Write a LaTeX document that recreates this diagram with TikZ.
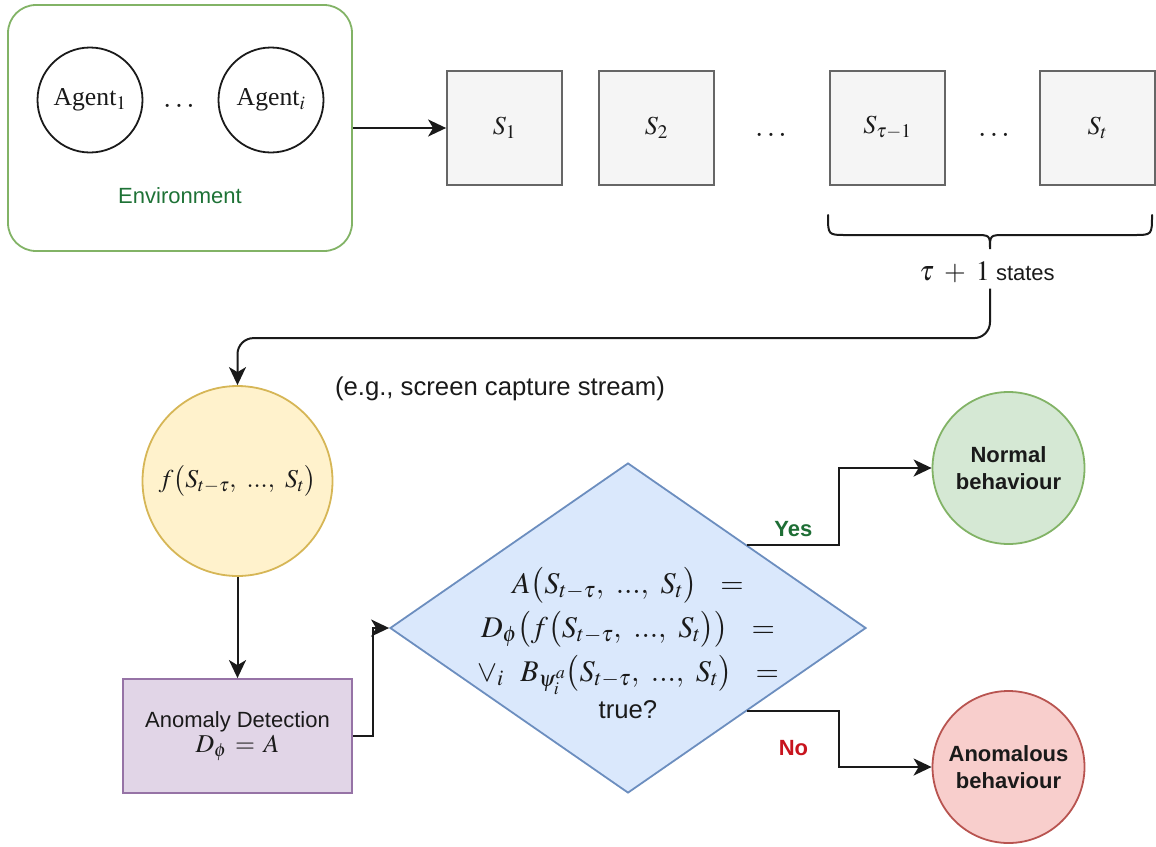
\documentclass[tikz,border=0pt]{standalone}
\usepackage{mathptmx}
\usepackage[no-math]{fontspec}
\setmainfont{Liberation Sans}
\newfontfamily\agentfont{Liberation Serif}
\usetikzlibrary{arrows.meta,shapes.geometric,calc}

\definecolor{envgreen}{HTML}{82B366}
\definecolor{envtext}{HTML}{1E7236}
\definecolor{stfill}{HTML}{F5F5F5}
\definecolor{stdraw}{HTML}{666666}
\definecolor{yfill}{HTML}{FFF2CC}
\definecolor{ydraw}{HTML}{D6B656}
\definecolor{pfill}{HTML}{E1D5E7}
\definecolor{pdraw}{HTML}{9673A6}
\definecolor{bfill}{HTML}{DAE8FC}
\definecolor{bdraw}{HTML}{6C8EBF}
\definecolor{gfill}{HTML}{D5E8D4}
\definecolor{rfill}{HTML}{F8CECC}
\definecolor{rdraw}{HTML}{B85450}
\definecolor{ink}{HTML}{1A1A1A}
\definecolor{yescol}{HTML}{1E6E35}
\definecolor{nocol}{HTML}{C8141E}

\newcommand{\sz}[1]{\fontsize{#1}{1.2\dimexpr#1pt\relax}\selectfont}
% argument list S_{t-tau}, ..., S_t
\newcommand{\seqargs}{S_{t-\tau},\ ...,\ S_t}

\tikzset{
  line/.style={draw=ink, line width=2pt},
  arr/.style={line, -{Stealth[length=18pt,width=17pt,inset=5pt]}},
  envbox/.style={draw=envgreen, line width=1.8pt, rounded corners=28pt,
    minimum width=344pt, minimum height=246pt, inner sep=0pt},
  agent/.style={circle, draw=ink, line width=1.8pt, minimum size=105pt,
    inner sep=0pt, font=\agentfont\sz{25.7}, text=ink},
  statebox/.style={draw=stdraw, fill=stfill, line width=1.8pt,
    minimum width=115pt, minimum height=114pt, inner sep=0pt,
    font=\sz{26}, text=ink},
  dotsnode/.style={inner sep=0pt, font=\sz{30}, text=ink},
  fcirc/.style={circle, draw=ydraw, fill=yfill, line width=1.8pt,
    minimum size=190pt, inner sep=0pt, font=\sz{25.7}, text=ink},
  adbox/.style={draw=pdraw, fill=pfill, line width=1.8pt,
    minimum width=229pt, minimum height=114pt, align=center,
    font=\sz{22}, text=ink},
  decision/.style={diamond, draw=bdraw, fill=bfill, line width=1.8pt,
    minimum width=476pt, minimum height=330pt, inner sep=0pt},
  goodc/.style={circle, draw=envgreen, fill=gfill, line width=1.8pt,
    minimum size=152pt, inner sep=0pt, align=center,
    font=\bfseries\sz{22}, text=ink},
  badc/.style={circle, draw=rdraw, fill=rfill, line width=1.8pt,
    minimum size=152pt, inner sep=0pt, align=center,
    font=\bfseries\sz{22}, text=ink},
  yeslbl/.style={inner sep=3pt, font=\bfseries\sz{22}, text=yescol},
  nolbl/.style={inner sep=3pt, font=\bfseries\sz{22}, text=nocol},
}

\begin{document}
\begin{tikzpicture}[x=1pt, y=-1pt]
\useasboundingbox (0,0) rectangle (1156,846);

% environment with its agents
\node[envbox] (env) at (180,128) {};
\node[agent] (a1) at (90,100) {Agent$_1$};
\node[agent] (ai) at (271,100) {Agent$_i$};
\node[dotsnode] (adots) at (179,106) {$\dots$};
\node[font=\sz{22}, text=envtext] (envlbl) at (180,196) {Environment};

% sequence of states
\node[statebox] (s1) at (504.5,128) {$S_1$};
\node[statebox] (s2) at (656.5,128) {$S_2$};
\node[statebox] (stau) at (887.5,128) {$S_{\tau-1}$};
\node[statebox] (st) at (1097.5,128) {$S_t$};
\node[dotsnode] (sdots1) at (771,135) {$\dots$};
\node[dotsnode] (sdots2) at (994,135) {$\dots$};

\draw[arr] (env.east) -- (env.east -| s1.west);

% brace over the last tau+1 states
\coordinate (bt) at (990,249);
\draw[line, line cap=round]
  (828,215) .. controls (828,235) .. (846,235) -- (974,235)
  .. controls (990,235) .. (990,249)
  .. controls (990,235) .. (1006,235) -- (1134,235)
  .. controls (1152,235) .. (1152,215);
\node[font=\sz{22}, text=ink, inner xsep=3pt, inner ysep=6pt] (taulbl) at (987,272)
  {{\sz{28}$\tau \;+\; 1$} states};

% feature extraction
\node[fcirc] (fc) at (237.5,481) {$f\bigl(\seqargs\bigr)$};
\node[font=\sz{25.7}, text=ink] (eg) at (500,389) {(e.g., screen capture stream)};

\draw[arr, rounded corners=16pt] (taulbl.south -| bt) |- ($(fc.north)+(0,-47)$) -- (fc.north);

% anomaly detector
\node[adbox] (ad) at (237.5,736) {Anomaly Detection\\[-2pt]{\sz{25.7}$D_\phi \,=\, A$}};
\draw[arr] (fc.south) -- (ad.north);

% decision
\node[decision] (dm) at (628,628) {};
\node[align=center, font=\sz{30}, text=ink] (dmtext) at (628,643)
  {$A\bigl(\seqargs\bigr) \ \ =$\\[8pt]
   $D_\phi\bigl(f\bigl(\seqargs\bigr)\bigr) \ \ =$\\[8pt]
   $\vee_i\ \ B_{\psi_i^a}\bigl(\seqargs\bigr) \ \ =$\\[1pt]
   {\sz{25.7}true?}};
\draw[arr] (ad.east) -- ++(20,0) |- (dm.west);

% outcomes
\node[goodc] (nb) at (1008.5,468) {Normal\\behaviour};
\node[badc] (rb) at (1008.5,767) {Anomalous\\behaviour};

\coordinate (yesp) at ($(dm.north)!0.5!(dm.east)$);
\coordinate (nop) at ($(dm.south)!0.5!(dm.east)$);
\draw[arr] (yesp) -- node[above=4pt, yeslbl] {Yes} ++(92,0) |- (nb.west);
\draw[arr] (nop) -- node[below=25pt, nolbl] {No} ++(92,0) |- (rb.west);
\end{tikzpicture}
\end{document}
